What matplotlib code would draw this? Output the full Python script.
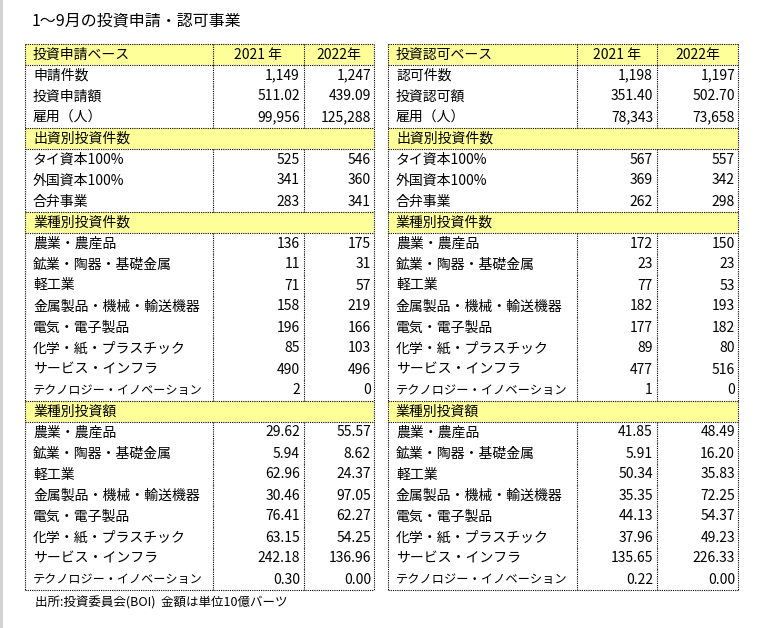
import matplotlib
matplotlib.use("Agg")
import matplotlib.pyplot as plt
from matplotlib.patches import Rectangle

plt.rcParams['font.family'] = ['Noto Sans CJK JP', 'DejaVu Sans']

title = "1～9月の投資申請・認可事業"
footer = "出所:投資委員会(BOI)  金額は単位10億バーツ"
years = ["2021 年", "2022年"]

left_header = "投資申請ベース"
right_header = "投資認可ベース"

left_summary_labels = ["申請件数", "投資申請額", "雇用（人）"]
left_summary_2021 = [1149, 511.02, 99956]
left_summary_2022 = [1247, 439.09, 125288]
right_summary_labels = ["認可件数", "投資認可額", "雇用（人）"]
right_summary_2021 = [1198, 351.40, 78343]
right_summary_2022 = [1197, 502.70, 73658]
summary_fmt = ["{:,.0f}", "{:,.2f}", "{:,.0f}"]

capital_section = "出資別投資件数"
capital_labels = ["タイ資本100%", "外国資本100%", "合弁事業"]
left_capital_2021 = [525, 341, 283]
left_capital_2022 = [546, 360, 341]
right_capital_2021 = [567, 369, 262]
right_capital_2022 = [557, 342, 298]

sector_count_section = "業種別投資件数"
sector_amount_section = "業種別投資額"
sector_labels = ["農業・農産品", "鉱業・陶器・基礎金属", "軽工業", "金属製品・機械・輸送機器",
                 "電気・電子製品", "化学・紙・プラスチック", "サービス・インフラ",
                 "テクノロジー・イノベーション"]
left_count_2021 = [136, 11, 71, 158, 196, 85, 490, 2]
left_count_2022 = [175, 31, 57, 219, 166, 103, 496, 0]
right_count_2021 = [172, 23, 77, 182, 177, 89, 477, 1]
right_count_2022 = [150, 23, 53, 193, 182, 80, 516, 0]
left_amount_2021 = [29.62, 5.94, 62.96, 30.46, 76.41, 63.15, 242.18, 0.30]
left_amount_2022 = [55.57, 8.62, 24.37, 97.05, 62.27, 54.25, 136.96, 0.00]
right_amount_2021 = [41.85, 5.91, 50.34, 35.35, 44.13, 37.96, 135.65, 0.22]
right_amount_2022 = [48.49, 16.20, 35.83, 72.25, 54.37, 49.23, 226.33, 0.00]

W, H = 763, 628
fig = plt.figure(figsize=(W / 100, H / 100), dpi=100)
ax = fig.add_axes([0, 0, 1, 1])
ax.set_xlim(0, W)
ax.set_ylim(H, 0)
ax.axis('off')
renderer = fig.canvas.get_renderer()

YELLOW = "#FFFF99"
FS = 10
ROW_H = 21
TOP = 44
dot = dict(color="black", lw=0.8, linestyle=(0, (1, 1)))


def build_rows(header, s_labels, s21, s22, c21, c22, n21, n22, a21, a22):
    rows = [("header", header, years[0], years[1])]
    for lab, v1, v2, f in zip(s_labels, s21, s22, summary_fmt):
        rows.append(("data", lab, f.format(v1), f.format(v2)))
    rows.append(("section", capital_section, "", ""))
    for lab, v1, v2 in zip(capital_labels, c21, c22):
        rows.append(("data", lab, f"{v1:,}", f"{v2:,}"))
    rows.append(("section", sector_count_section, "", ""))
    for lab, v1, v2 in zip(sector_labels, n21, n22):
        rows.append(("data", lab, f"{v1:,}", f"{v2:,}"))
    rows.append(("section", sector_amount_section, "", ""))
    for lab, v1, v2 in zip(sector_labels, a21, a22):
        rows.append(("data", lab, f"{v1:,.2f}", f"{v2:,.2f}"))
    return rows


def fit_text(x, y, s, max_w, **kw):
    t = ax.text(x, y, s, fontsize=FS, **kw)
    w = t.get_window_extent(renderer=renderer).width
    if w > max_w:
        t.set_fontsize(FS * max_w / w)
    return t


def draw_table(rows, x0, x1, x2, x3):
    n = len(rows)
    bottom = TOP + n * ROW_H
    for i, (kind, lab, v1, v2) in enumerate(rows):
        y = TOP + i * ROW_H
        yc = y + ROW_H / 2
        if kind in ("header", "section"):
            ax.add_patch(Rectangle((x0, y), x3 - x0, ROW_H, facecolor=YELLOW, edgecolor="none", zorder=0))
            ax.plot([x0, x3], [y, y], **dot)
            ax.plot([x0, x3], [y + ROW_H, y + ROW_H], **dot)
        if kind != "section":
            ax.plot([x1, x1], [y, y + ROW_H], **dot)
            ax.plot([x2, x2], [y, y + ROW_H], **dot)
        fit_text(x0 + 8, yc, lab, x1 - x0 - 18, ha="left", va="center")
        if kind == "header":
            ax.text((x1 + x2) / 2, yc, v1, fontsize=FS, ha="center", va="center")
            ax.text((x2 + x3) / 2, yc, v2, fontsize=FS, ha="center", va="center")
        elif kind == "data":
            ax.text(x2 - 4, yc, v1, fontsize=FS, ha="right", va="center")
            ax.text(x3 - 3, yc, v2, fontsize=FS, ha="right", va="center")
    ax.plot([x0, x0], [TOP, bottom], **dot)
    ax.plot([x3, x3], [TOP, bottom], **dot)
    ax.plot([x0, x3], [bottom, bottom], **dot)


left_rows = build_rows(left_header, left_summary_labels, left_summary_2021, left_summary_2022,
                       left_capital_2021, left_capital_2022, left_count_2021, left_count_2022,
                       left_amount_2021, left_amount_2022)
right_rows = build_rows(right_header, right_summary_labels, right_summary_2021, right_summary_2022,
                        right_capital_2021, right_capital_2022, right_count_2021, right_count_2022,
                        right_amount_2021, right_amount_2022)

draw_table(left_rows, 25, 213, 304, 374)
draw_table(right_rows, 388, 577, 657, 738)

ax.text(32, 21, title, fontsize=11.5, ha="left", va="center")
ax.text(35, 603, footer, fontsize=9, ha="left", va="center")
ax.add_patch(Rectangle((0, 0), 2.5, H, facecolor="#d4d4d4", edgecolor="none"))

fig.savefig("out.png", dpi=100)
